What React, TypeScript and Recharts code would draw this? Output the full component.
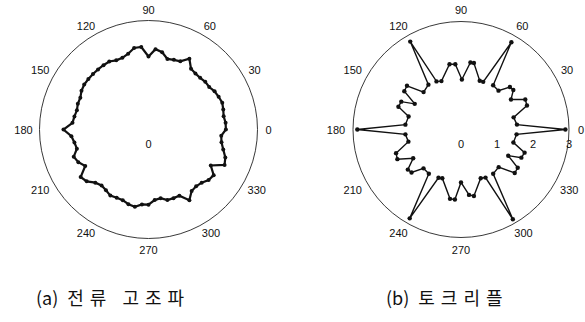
import { PolarAngleAxis, PolarRadiusAxis, Radar, RadarChart } from "recharts";

const angleTicks = [0, 30, 60, 90, 120, 150, 180, 210, 240, 270, 300, 330];

// (a) current harmonics, read every 5 degrees
const currentAngles = [
  0, 5, 10, 15, 20, 25, 30, 35, 40, 45, 50, 55, 60, 65, 70, 75, 80, 85,
  90, 95, 100, 105, 110, 115, 120, 125, 130, 135, 140, 145, 150, 155, 160, 165, 170, 175,
  180, 185, 190, 195, 200, 205, 210, 215, 220, 225, 230, 235, 240, 245, 250, 255, 260, 265,
  270, 275, 280, 285, 290, 295, 300, 305, 310, 315, 320, 325, 330, 335, 340, 345, 350, 355,
];
const currentValues = [
  0.71, 0.71, 0.7, 0.71, 0.72, 0.71, 0.7, 0.68, 0.68, 0.67, 0.67, 0.68, 0.75, 0.69, 0.68, 0.67, 0.72, 0.74,
  0.67, 0.76, 0.76, 0.72, 0.7, 0.7, 0.72, 0.72, 0.72, 0.72, 0.72, 0.72, 0.71, 0.69, 0.69, 0.68, 0.69, 0.7,
  0.78, 0.71, 0.69, 0.68, 0.73, 0.71, 0.67, 0.76, 0.74, 0.69, 0.67, 0.68, 0.7, 0.69, 0.69, 0.71, 0.72, 0.69,
  0.69, 0.65, 0.64, 0.67, 0.67, 0.67, 0.75, 0.69, 0.68, 0.69, 0.72, 0.73, 0.66, 0.77, 0.75, 0.71, 0.68, 0.67,
];
const currentRadiusTicks = [0];

// (b) torque ripple
const torqueAngles = [
  0, 5, 13, 20, 25, 31, 37, 41, 46, 54,
  60, 65, 69, 79, 82, 89, 95, 100, 112, 117,
  120, 126, 135, 141, 146, 151, 155, 160, 166, 175,
  180, 185, 193, 200, 205, 211, 217, 221, 226, 234,
  240, 245, 249, 261, 265, 270, 277, 281, 292, 297,
  300, 306, 315, 321, 326, 331, 335, 340, 346, 355,
];
const torqueValues = [
  2.9, 1.56, 1.5, 1.95, 1.97, 1.62, 1.82, 1.8, 1.5, 1.52,
  2.8, 1.46, 1.45, 1.88, 1.88, 1.39, 1.82, 1.84, 1.45, 1.5,
  2.82, 1.54, 1.47, 1.93, 1.9, 1.47, 1.83, 1.85, 1.5, 1.55,
  2.88, 1.55, 1.5, 1.92, 1.95, 1.55, 1.85, 1.82, 1.5, 1.52,
  2.85, 1.48, 1.45, 1.95, 1.95, 1.47, 1.83, 1.88, 1.46, 1.5,
  2.88, 1.52, 1.48, 1.92, 1.9, 1.5, 1.85, 1.88, 1.5, 1.55,
];
const torqueRadiusTicks = [0, 1, 2, 3];

const currentData = currentAngles.map((angle, i) => ({ angle, r: currentValues[i] }));
const torqueData = torqueAngles.map((angle, i) => ({ angle, r: torqueValues[i] }));

const numFont = "'Liberation Sans', Arial, sans-serif";

function AngleTick(props: any) {
  const { x, y, payload } = props;
  const label = String(payload.value);
  const cos = Math.cos((payload.value * Math.PI) / 180);
  const dx = cos * (label.length - 1) * 2.5;
  return (
    <text x={x + dx} y={y} textAnchor="middle" dominantBaseline="central" fontSize={11} fill="#111" fontFamily={numFont}>
      {label}
    </text>
  );
}

function RadiusTick(props: any) {
  const { x, y, payload } = props;
  return (
    <text x={x} y={y + 14} textAnchor="middle" dominantBaseline="central" fontSize={11} fill="#111" fontFamily={numFont}>
      {payload.value}
    </text>
  );
}

const makeDot = (size: number) => (props: any) => (
  <circle key={`dot-${props.index}`} cx={props.cx} cy={props.cy} r={size} fill="#111" stroke="none" />
);

type PolarPlotProps = {
  data: { angle: number; r: number }[];
  left: number;
  width: number;
  cx: number;
  outer: number;
  max: number;
  radiusTicks: number[];
  lineWidth: number;
  dotSize: number;
};

function PolarPlot({ data, left, width, cx, outer, max, radiusTicks, lineWidth, dotSize }: PolarPlotProps) {
  return (
    <div style={{ position: "absolute", left, top: 0 }}>
      <RadarChart
        width={width}
        height={262}
        data={data}
        cx={cx}
        cy={129.5}
        outerRadius={outer}
        startAngle={0}
        endAngle={360}
        margin={{ top: 0, right: 0, bottom: 0, left: 0 }}
      >
        <PolarAngleAxis
          dataKey="angle"
          type="number"
          domain={[0, 360]}
          ticks={angleTicks}
          axisLineType="circle"
          axisLine={{ stroke: "#222", strokeWidth: 0.9 }}
          tickLine={false}
          tickSize={120 - outer}
          tick={<AngleTick />}
        />
        <PolarRadiusAxis
          angle={0}
          type="number"
          domain={[0, max]}
          ticks={radiusTicks}
          axisLine={false}
          tickLine={false}
          tick={<RadiusTick />}
        />
        <Radar
          dataKey="r"
          stroke="#111"
          strokeWidth={lineWidth}
          fill="none"
          fillOpacity={0}
          dot={makeDot(dotSize)}
          isAnimationActive={false}
        />
      </RadarChart>
    </div>
  );
}

const captionStyle = {
  position: "absolute" as const,
  top: 285,
  fontFamily: "'Noto Sans CJK KR', sans-serif",
  fontSize: 18,
  color: "#111",
  whiteSpace: "pre" as const,
  lineHeight: "24px",
};

function Caption({ left, tag, text }: { left: number; tag: string; text: string }) {
  return (
    <div style={{ ...captionStyle, left }}>
      <span>{tag}</span>
      <span style={{ marginLeft: 9, letterSpacing: 6 }}>{text}</span>
    </div>
  );
}

export default function App() {
  return (
    <div style={{ position: "absolute", left: 0, top: 0, width: 585, height: 322, background: "#fff", overflow: "hidden" }}>
      <PolarPlot
        data={currentData}
        left={0}
        width={295}
        cx={148.5}
        outer={109}
        max={1}
        radiusTicks={currentRadiusTicks}
        lineWidth={2.2}
        dotSize={2}
      />
      <PolarPlot
        data={torqueData}
        left={295}
        width={290}
        cx={166}
        outer={108}
        max={3}
        radiusTicks={torqueRadiusTicks}
        lineWidth={1.4}
        dotSize={2.2}
      />
      <Caption left={36} tag="(a)" text="전류 고조파" />
      <Caption left={386} tag="(b)" text="토크리플" />
    </div>
  );
}
